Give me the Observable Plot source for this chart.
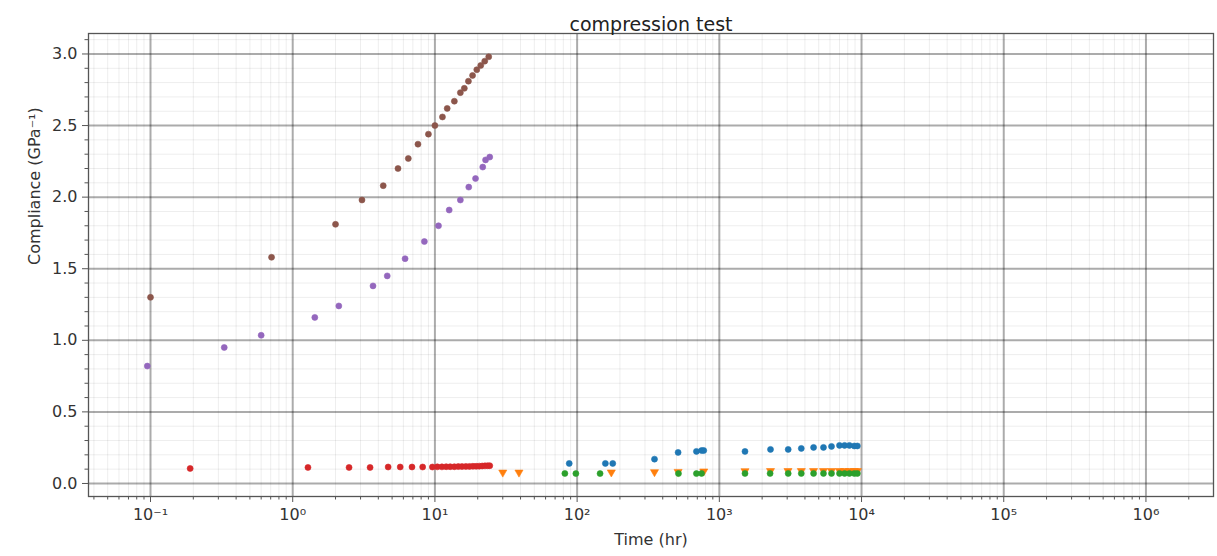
<!DOCTYPE html>
<html><head><meta charset="utf-8">
<script src="https://cdn.jsdelivr.net/npm/d3@7"></script>
<script src="https://cdn.jsdelivr.net/npm/@observablehq/plot@0.6"></script>
<style>body{margin:0;background:#fff}</style>
</head><body><div id="chart"></div>
<script>
const title = "compression test";
const xLabel = "Time (hr)";
const yLabel = "Compliance (GPa⁻¹)";
const xTickValues = [0.1, 1, 10, 100, 1000, 10000, 100000, 1000000];
const xTickLabels = ["10⁻¹","10⁰","10¹","10²","10³","10⁴","10⁵","10⁶"];
const yTickValues = [0, 0.5, 1, 1.5, 2, 2.5, 3];
const yTickLabels = ["0.0","0.5","1.0","1.5","2.0","2.5","3.0"];

// series (matplotlib tab10 order)
const blueT = [88, 158, 178, 350, 513, 690, 750, 777, 1515, 2290, 3050, 3770, 4600, 5400, 6150, 7000, 7600, 8220, 8900, 9350];
const blueC = [0.14, 0.14, 0.14, 0.17, 0.217, 0.224, 0.23, 0.23, 0.224, 0.238, 0.238, 0.245, 0.252, 0.252, 0.259, 0.266, 0.266, 0.266, 0.262, 0.262];
const orangeT = [30, 39, 174, 350, 513, 777, 1515, 2290, 3040, 3770, 4600, 5400, 6150, 7000, 7600, 8220, 8900, 9350];
const orangeC = [0.077, 0.077, 0.078, 0.08, 0.082, 0.085, 0.087, 0.088, 0.088, 0.088, 0.088, 0.088, 0.088, 0.088, 0.088, 0.088, 0.088, 0.088];
const greenT = [82, 98, 145, 516, 690, 750, 1515, 2275, 3050, 3770, 4600, 5400, 6150, 7000, 7600, 8220, 8900, 9350];
const greenC = [0.07, 0.069, 0.069, 0.069, 0.069, 0.07, 0.07, 0.07, 0.07, 0.07, 0.07, 0.07, 0.07, 0.07, 0.07, 0.07, 0.07, 0.07];
const redT = [0.19, 1.28, 2.49, 3.5, 4.69, 5.7, 6.9, 8.2, 9.6, 10.4, 11.2, 12, 12.8, 13.7, 14.6, 15.5, 16.5, 17.5, 18.5, 19.5, 20.5, 21.5, 22.5, 23.5, 24.3];
const redC = [0.105, 0.112, 0.112, 0.112, 0.115, 0.115, 0.115, 0.115, 0.115, 0.116, 0.116, 0.117, 0.117, 0.117, 0.118, 0.118, 0.119, 0.119, 0.12, 0.12, 0.121, 0.122, 0.123, 0.124, 0.124];
const purpleT = [0.095, 0.33, 0.60, 1.43, 2.11, 3.67, 4.62, 6.17, 8.43, 10.6, 12.6, 15.1, 17.3, 19.3, 21.7, 22.7, 24.3];
const purpleC = [0.82, 0.95, 1.035, 1.16, 1.24, 1.38, 1.45, 1.57, 1.69, 1.80, 1.91, 1.98, 2.07, 2.13, 2.21, 2.26, 2.28];
const brownT = [0.1, 0.71, 2.0, 3.07, 4.33, 5.5, 6.5, 7.6, 9.0, 10, 11.3, 12.2, 13.7, 15.1, 16.1, 17.2, 18.4, 19.7, 21, 22.4, 23.9];
const brownC = [1.30, 1.58, 1.81, 1.98, 2.08, 2.20, 2.27, 2.37, 2.44, 2.50, 2.56, 2.62, 2.67, 2.73, 2.76, 2.81, 2.85, 2.89, 2.92, 2.95, 2.98];

const series = [
  {t: blueT, c: blueC, color: "#1f77b4", symbol: "circle"},
  {t: orangeT, c: orangeC, color: "#ff7f0e", symbol: "triangle", rotate: 180},
  {t: greenT, c: greenC, color: "#2ca02c", symbol: "circle"},
  {t: redT, c: redC, color: "#d62728", symbol: "circle"},
  {t: purpleT, c: purpleC, color: "#9467bd", symbol: "circle"},
  {t: brownT, c: brownC, color: "#8c564b", symbol: "circle"}
];

const xDomain = [Math.pow(10, -1.436), Math.pow(10, 6.475)];
const yDomain = [-0.091, 3.143];

const xMinor = [];
for (let e = -2; e <= 6; e++) for (let k = 2; k <= 9; k++) {
  const v = k * Math.pow(10, e);
  if (v >= xDomain[0] && v <= xDomain[1]) xMinor.push(v);
}
const yMinor = d3.range(1, 32).map(i => i / 10).filter(v => Math.round(v * 10) % 5 !== 0 && v <= yDomain[1]);

const font = "DejaVu Sans, sans-serif";
const marks = [
  Plot.gridX(xMinor, {stroke: "#000", strokeOpacity: 0.07, strokeWidth: 1}),
  Plot.gridY(yMinor, {stroke: "#000", strokeOpacity: 0.07, strokeWidth: 1}),
  Plot.gridX(xTickValues, {stroke: "#000", strokeOpacity: 0.33, strokeWidth: 2}),
  Plot.gridY(yTickValues, {stroke: "#000", strokeOpacity: 0.33, strokeWidth: 2}),
  Plot.axisX(xMinor, {anchor: "bottom", tickSize: 3.5, tickFormat: () => "", label: null, stroke: "#555"}),
  Plot.axisY(yMinor, {anchor: "left", tickSize: 3.5, tickFormat: () => "", label: null, stroke: "#555"}),
  Plot.axisX(xTickValues, {anchor: "bottom", tickSize: 6, tickPadding: 6, fontSize: 16, fill: "#333", stroke: "#555",
    tickFormat: d => xTickLabels[xTickValues.indexOf(d)], label: null}),
  Plot.axisY(yTickValues, {anchor: "left", tickSize: 6, tickPadding: 5, fontSize: 16, fill: "#333", stroke: "#555",
    tickFormat: d => yTickLabels[yTickValues.indexOf(d)], label: null}),
  ...series.map(s => Plot.dot(s.t.map((t, i) => ({t, c: s.c[i]})), {
    x: "t", y: "c", fill: s.color, stroke: s.color, strokeWidth: 0.6, r: 3,
    symbol: () => s.symbol, rotate: s.rotate || 0
  })),
  Plot.frame({stroke: "#555", strokeWidth: 1.3}),
  Plot.text([title], {text: d => d, frameAnchor: "top", dy: -16, fontSize: 19, fill: "#222"}),
  Plot.text([xLabel], {text: d => d, frameAnchor: "bottom", dy: 48, fontSize: 16, fill: "#333"}),
  Plot.text([yLabel], {text: d => d, frameAnchor: "left", dx: -54, rotate: -90, fontSize: 16, fill: "#333"})
];

const chart = Plot.plot({
  width: 1217,
  height: 556,
  marginLeft: 88,
  marginRight: 4,
  marginTop: 33,
  marginBottom: 60,
  style: {fontFamily: font, background: "#fff"},
  x: {type: "log", domain: xDomain},
  y: {domain: yDomain},
  symbol: {type: "identity"},
  marks
});
document.getElementById("chart").appendChild(chart);
</script>
</body></html>
